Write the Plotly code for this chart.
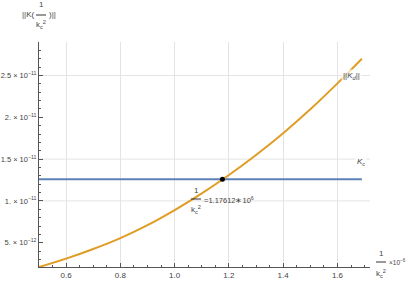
import plotly.graph_objects as go

# ---- data ----
x_vals = [0.5, 0.6, 0.7, 0.8, 0.9, 1.0, 1.1, 1.2, 1.3, 1.4, 1.5, 1.6, 1.69]
kd_vals = [2.1e-12, 3.1e-12, 4.25e-12, 5.55e-12, 7.1e-12, 8.9e-12, 10.9e-12,
           13.1e-12, 15.5e-12, 18.1e-12, 20.95e-12, 24.05e-12, 27.0e-12]
kc_value = 1.26e-11
kc_x = [0.5, 1.69]
cross_x = [1.17612]
cross_y = [kc_value]

x_tickvals = [0.6, 0.8, 1.0, 1.2, 1.4, 1.6]
x_ticktext = ["0.6", "0.8", "1.0", "1.2", "1.4", "1.6"]
y_tickvals = [5e-12, 1e-11, 1.5e-11, 2e-11, 2.5e-11]
y_ticktext = ["5. × 10<sup>−12</sup>", "1. × 10<sup>−11</sup>", "1.5 × 10<sup>−11</sup>",
              "2. × 10<sup>−11</sup>", "2.5 × 10<sup>−11</sup>"]
y_grid = [1e-11, 1.5e-11, 2.5e-11]

ORANGE = "#E09C24"
BLUE = "#5E81B5"
AX = "#555555"
TXT = "#444444"
FONT = "Liberation Sans, Arial, sans-serif"

W, H = 409, 284
L, R, T, B = 39, 39, 42, 17
PW, PH = W - L - R, H - T - B


def px(xp):
    return (xp - L) / PW


def py(yp):
    return (H - B - yp) / PH


fig = go.Figure()
fig.add_trace(go.Scatter(x=kc_x, y=[kc_value] * len(kc_x), mode="lines",
                         line=dict(color=BLUE, width=2), hoverinfo="skip"))
fig.add_trace(go.Scatter(x=x_vals, y=kd_vals, mode="lines",
                         line=dict(color=ORANGE, width=2, shape="spline"), hoverinfo="skip"))
fig.add_trace(go.Scatter(x=cross_x, y=cross_y, mode="markers",
                         marker=dict(color="black", size=5), hoverinfo="skip"))

shapes = []
for gy in y_grid:
    shapes.append(dict(type="line", xref="paper", yref="y", x0=0, x1=1, y0=gy, y1=gy,
                       line=dict(color="#e3e3e3", width=1), layer="below"))
# fraction bars
for (x0, x1, yb) in [(36, 46, 15), (376, 386, 262), (191, 201, 199)]:
    shapes.append(dict(type="line", xref="paper", yref="paper", x0=px(x0), x1=px(x1),
                       y0=py(yb), y1=py(yb), line=dict(color="#333333", width=1)))

ann = []


def text(xp, yp, s, size=8, xanchor="center", bg=None, color=TXT):
    d = dict(x=px(xp), y=py(yp), xref="paper", yref="paper", text=s, showarrow=False,
             xanchor=xanchor, yanchor="middle", font=dict(size=size, color=color, family=FONT))
    if bg:
        d["bgcolor"] = bg
        d["borderpad"] = 1
    ann.append(d)


# y-axis title
text(41, 4, "1")
text(35.5, 15, "||K(", xanchor="right")
text(46.5, 15, ")||", xanchor="left")
text(41, 25, "k<sub>c</sub><sup>2</sup>")
# x-axis title
text(381, 253, "1")
text(381, 273, "k<sub>c</sub><sup>2</sup>")
text(386.5, 262, "×10<sup>−6</sup>", size=6.5, xanchor="left")
# crossing annotation
text(196, 190, "1")
text(196, 209, "k<sub>c</sub><sup>2</sup>")
text(201.5, 200, "=1.17612∗10<sup>6</sup>", size=7.5, xanchor="left")
# curve labels
text(351, 76, "||<i>K<sub>d</sub></i>||", bg="rgba(255,255,255,0.7)")
text(361, 162, "<i>K<sub>c</sub></i>", bg="rgba(255,255,255,0.85)")

fig.update_layout(
    width=W, height=H, margin=dict(l=L, r=R, t=T, b=B, autoexpand=False),
    paper_bgcolor="white", plot_bgcolor="white", showlegend=False,
    shapes=shapes, annotations=ann,
    font=dict(family=FONT, color=TXT),
    xaxis=dict(range=[0.5, 1.72], tickmode="array", tickvals=x_tickvals, ticktext=x_ticktext,
               ticks="inside", ticklen=4, tickcolor=AX, tickwidth=1, automargin=False,
               showline=True, linecolor=AX, linewidth=1,
               showgrid=True, gridcolor="#e3e3e3", gridwidth=1, zeroline=False,
               tickfont=dict(size=8, color=TXT),
               minor=dict(tickmode="linear", tick0=0.5, dtick=0.05, ticks="inside",
                          ticklen=2, tickcolor=AX, showgrid=False)),
    yaxis=dict(range=[2.1e-12, 29e-12], tickmode="array", tickvals=y_tickvals, ticktext=y_ticktext,
               ticks="inside", ticklen=4, tickcolor=AX, tickwidth=1, automargin=False,
               showline=True, linecolor=AX, linewidth=1,
               showgrid=False, zeroline=False,
               tickfont=dict(size=7.5, color=TXT), ticklabelstandoff=0,
               minor=dict(tickmode="linear", tick0=0, dtick=1e-12, ticks="inside",
                          ticklen=2, tickcolor=AX, showgrid=False)),
)

fig.write_html("out.html", config={"displayModeBar": False, "staticPlot": True},
               post_script="document.body.style.margin='0';document.body.style.overflow='hidden';")
